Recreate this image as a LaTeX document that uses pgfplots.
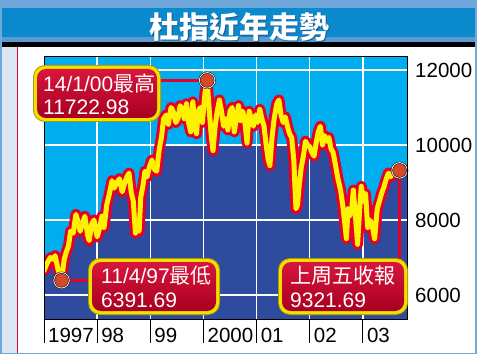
\documentclass[border=0pt]{standalone}
\usepackage{fontspec}
\setmainfont{Liberation Sans}
\newfontfamily\cjk{Noto Sans CJK TC}
\usepackage{pgfplots}
\pgfplotsset{compat=1.18}
\usepackage{pgfplotstable}
\definecolor{titleblue}{HTML}{0A89CD}
\definecolor{titlelight}{HTML}{6FA6DA}
\definecolor{titlemid}{HTML}{5A9AD0}
\definecolor{ybar}{HTML}{FFF100}
\definecolor{frameblue}{HTML}{6FA8DC}
\definecolor{leftstrip}{HTML}{DDE7F3}
\definecolor{cyanbg}{HTML}{00AEEF}
\definecolor{fillblue}{HTML}{2E4B9E}
\definecolor{linered}{HTML}{E4002B}
\definecolor{lineyellow}{HTML}{FFF200}
\definecolor{boxred1}{HTML}{D8163C}
\definecolor{boxred2}{HTML}{A80020}
\definecolor{boxyellow}{HTML}{F2E000}
\definecolor{boxedge}{HTML}{A89A10}
\definecolor{ballred}{HTML}{D4482C}
\definecolor{shadowblue}{HTML}{1B5C92}

\pgfplotstableread{
x v
1997.00 6650
1997.06 6850
1997.12 7000
1997.17 6950
1997.21 7050
1997.26 6700
1997.33 6392
1997.38 6950
1997.42 7150
1997.46 7300
1997.50 7700
1997.55 7650
1997.60 8150
1997.64 7950
1997.68 7700
1997.72 7900
1997.77 8100
1997.82 7600
1997.85 7450
1997.90 7900
1997.94 8000
1998.00 7550
1998.04 7750
1998.09 8100
1998.13 7800
1998.18 8400
1998.23 8700
1998.28 9050
1998.32 8850
1998.37 9000
1998.42 9100
1998.47 8750
1998.52 9000
1998.56 9150
1998.60 9250
1998.64 8750
1998.68 8500
1998.72 7650
1998.75 7800
1998.79 7700
1998.82 8600
1998.86 8900
1998.90 9300
1998.94 9150
1998.98 9400
1999.03 9600
1999.08 9350
1999.12 9300
1999.17 9900
1999.21 10200
1999.25 10700
1999.30 10800
1999.34 10550
1999.39 11000
1999.43 10900
1999.48 10600
1999.52 10700
1999.56 11050
1999.60 10950
1999.64 10700
1999.68 11100
1999.72 10600
1999.76 10350
1999.80 11150
1999.84 10500
1999.87 10300
1999.90 10900
1999.94 11000
1999.98 10600
2000.03 11400
2000.07 11723
2000.11 10900
2000.15 10200
2000.18 9850
2000.22 10500
2000.26 10900
2000.30 11200
2000.34 10900
2000.38 10500
2000.42 10700
2000.46 10400
2000.50 10900
2000.54 11000
2000.58 10350
2000.62 10700
2000.66 11050
2000.70 10650
2000.74 10900
2000.78 10600
2000.82 10050
2000.86 10900
2000.90 10700
2000.94 10500
2000.98 10800
2001.02 10600
2001.06 10950
2001.10 10700
2001.14 10500
2001.18 10000
2001.22 9600
2001.25 9450
2001.29 10200
2001.33 10700
2001.38 11100
2001.42 11200
2001.46 10800
2001.50 10600
2001.54 10750
2001.58 10500
2001.62 10300
2001.66 10200
2001.70 9600
2001.74 8300
2001.77 8400
2001.80 8900
2001.84 9400
2001.88 9700
2001.92 10100
2001.96 10000
2002.00 9950
2002.04 9800
2002.08 9700
2002.12 10050
2002.16 10350
2002.20 10500
2002.24 10000
2002.28 10250
2002.32 10100
2002.36 10200
2002.40 9900
2002.44 9800
2002.48 9500
2002.53 9100
2002.58 8800
2002.62 8400
2002.66 7900
2002.69 7500
2002.72 8300
2002.75 8100
2002.79 8300
2002.82 8800
2002.86 8100
2002.90 7350
2002.94 8300
2002.97 8900
2003.01 8500
2003.05 8700
2003.09 7800
2003.13 8000
2003.17 7900
2003.22 7500
2003.27 8300
2003.31 8500
2003.35 8700
2003.40 8900
2003.44 9100
2003.48 9250
2003.52 9150
2003.56 9250
2003.61 9200
2003.65 9300
2003.69 9322
}\dow

\newcommand\callout[4]{%
  \fill[boxedge, rounded corners=12pt] (#1pt,#2pt) rectangle (#3pt,#4pt);
  \fill[boxyellow, rounded corners=11pt] ({#1pt+1pt},{#2pt+1pt}) rectangle ({#3pt-1pt},{#4pt-1pt});
  \shade[top color=boxred1, bottom color=boxred2, rounded corners=9pt] ({#1pt+4pt},{#2pt+4pt}) rectangle ({#3pt-4pt},{#4pt-4pt});
}

\begin{document}
\begin{tikzpicture}
\path[use as bounding box] (0pt,0pt) rectangle (478pt,356pt);
\fill[white] (0pt,0pt) rectangle (478pt,356pt);
% left strip
\fill[leftstrip] (0pt,3pt) rectangle (17pt,309pt);
\draw[linered, line width=1.4pt] (17.6pt,3pt) -- (17.6pt,309pt);
% title bands
\fill[titlelight] (0pt,356pt) rectangle (476pt,348pt);
\fill[titleblue] (0pt,348pt) rectangle (476pt,319pt);
\fill[titlemid] (0pt,319pt) rectangle (476pt,314pt);
\fill[ybar] (0pt,314pt) rectangle (476pt,309pt);
\draw[frameblue, line width=1.5pt] (0.75pt,2.75pt) rectangle (476pt,355.25pt);
% title
\node[text=shadowblue, font=\cjk\bfseries\fontsize{30}{30}\selectfont] at (240.2pt,327.8pt) {杜指近年走勢};
\node[text=white, font=\cjk\bfseries\fontsize{30}{30}\selectfont] at (239pt,329pt) {杜指近年走勢};

\begin{axis}[
  at={(44pt,37pt)}, anchor=south west,
  scale only axis, width=363pt, height=263pt,
  xmin=1997, xmax=2003.83, ymin=5360, ymax=12373,
  axis background/.style={fill=cyanbg},
  xtick={1997,1998,1999,2000,2001,2002,2003},
  xticklabels={1997,98,99,2000,01,02,03},
  ytick={6000,8000,10000,12000},
  yticklabel pos=right,
  major tick length=0pt,
  axis line style={black, line width=0.8pt},
  axis on top,
  tick label style={font=\fontsize{20.5}{24}\selectfont, text=black},
  xticklabel style={anchor=base west, inner sep=0pt, xshift=4pt, yshift=-23pt},
  yticklabel style={anchor=west, inner sep=0pt, xshift=8pt},
  /pgf/number format/assume math mode=true,
  /pgf/number format/set thousands separator={},
  scaled y ticks=false,
  clip mode=individual,
]
% dark blue area below the line, capped at 10000
\addplot[draw=none, fill=fillblue] table[x=x, y expr={min(\thisrow{v},10000)}] {\dow} \closedcycle;
\fill[fillblue] (axis cs:2003.68,5360) rectangle (axis cs:2003.83,9322);
% white grid
\pgfplotsinvokeforeach{1998,1999,2000,2001,2002,2003}{
  \draw[white, line width=1.5pt] (axis cs:#1,5360) -- (axis cs:#1,12373);
}
\pgfplotsinvokeforeach{6000,8000,10000,12000}{
  \draw[white, line width=1.5pt] (axis cs:1997,#1) -- (axis cs:2003.83,#1);
}
% separators under the axis
\pgfplotsinvokeforeach{1997,1998,1999,2000,2001,2002,2003}{
  \draw[black, line width=0.8pt] (axis cs:#1,5360) -- (axis cs:#1,4720);
}
% the index line
\addplot[linered, line width=11pt, line join=round, line cap=round] table[x=x, y=v] {\dow};
\addplot[lineyellow, line width=5pt, line join=round, line cap=round] table[x=x, y=v] {\dow};
% connectors
\draw[linered, line width=2.5pt] (axis cs:1999.1,11723) -- (axis cs:2000.07,11723);
\draw[linered, line width=2.5pt] (axis cs:1997.33,6392) -- (axis cs:1997.95,6392);
\draw[linered, line width=2.5pt] (axis cs:2003.69,9322) -- (axis cs:2003.69,6800);
% balls
\addplot[only marks, mark=*, mark size=8.5pt, mark options={fill=white, draw=none}]
  coordinates {(1997.33,6392) (2000.07,11723) (2003.69,9322)};
\addplot[only marks, mark=*, mark size=7pt, mark options={draw=none, fill=ballred}]
  coordinates {(1997.33,6392) (2000.07,11723) (2003.69,9322)};
\end{axis}

% callout boxes
\callout{33}{234}{161}{291}
\callout{88}{41}{220}{98}
\callout{278}{41}{408}{98}
\begin{scope}[every node/.style={anchor=base west, inner sep=0pt, text=white, font=\fontsize{21}{21}\selectfont}]
\node at (43pt,264pt) {14/1/00{\cjk 最高}};
\node at (43pt,241pt) {11722.98};
\node at (101pt,73pt) {11/4/97{\cjk 最低}};
\node at (101pt,49pt) {6391.69};
\node at (290pt,73pt) {\cjk 上周五收報};
\node at (290pt,49pt) {9321.69};
\end{scope}
\end{tikzpicture}
\end{document}
